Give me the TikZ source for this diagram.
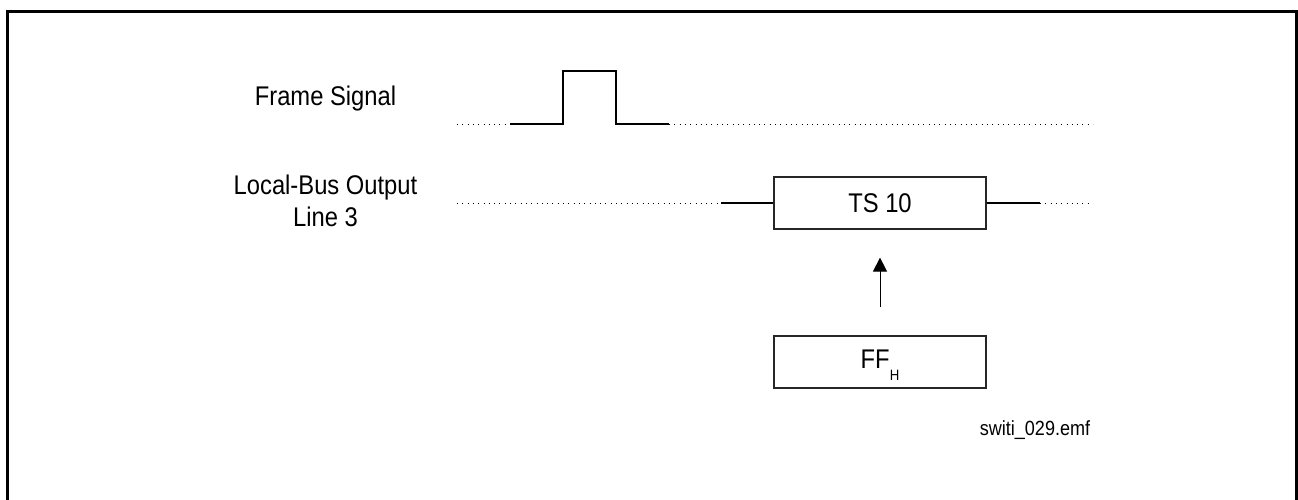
\documentclass[tikz,border=0pt]{standalone}
\usepackage{fontspec}
\setmainfont[FakeStretch=0.88]{Liberation Sans}
\usetikzlibrary{arrows.meta}
\tikzset{
  sig/.style={line width=1.2pt, black},
  dots/.style={line width=0.9pt, black, dash pattern=on 0.9pt off 4.4pt},
  slotbox/.style={draw=black!85, line width=1.2pt, minimum width=212pt, minimum height=52pt, inner sep=0pt, font=\fontsize{27}{30}\selectfont},
  lbl/.style={font=\fontsize{27}{31.5}\selectfont, inner sep=0pt},
  ptr/.style={line width=1pt, -{Triangle[width=14pt,length=14pt]}},
}
\begin{document}
\begin{tikzpicture}[x=1pt,y=-1pt]
\useasboundingbox (0,0) rectangle (1298,499);
\clip (0,0) rectangle (1298,499);
\draw[line width=3pt] (7.5,520) -- (7.5,11.5) -- (1296.5,11.5) -- (1296.5,520);
% labels
\node[lbl, anchor=base] (fs) at (325.5,105) {Frame Signal};
\node[lbl, anchor=base, align=center] (lb) at (325.5,226) {Local-Bus Output\\Line 3};
% frame signal waveform
\coordinate (f0) at (457,124);
\coordinate (f1) at (510,124);
\coordinate (f2) at (563,124);
\coordinate (f3) at (563,71);
\coordinate (f4) at (616,71);
\coordinate (f5) at (616,124);
\coordinate (f6) at (669,124);
\coordinate (f7) at (1093,124);
\draw[dots] (f0) -- (f1);
\draw[sig] (f1) -- (f2) -- (f3) -- (f4) -- (f5) -- (f6);
\draw[dots] (f6) -- (f7);
% local bus line
\node[slotbox] (ts) at (880,203) {TS 10};
\node[slotbox, text height=19.3pt, text depth=6.7pt] (ff) at (880,362) {FF{\fontsize{15}{15}\selectfont\raisebox{-11.7pt}{H}}};
\coordinate (l0) at (457,203);
\coordinate (l1) at (721,203);
\coordinate (r1) at (1040,203);
\coordinate (r0) at (1089,203);
\draw[dots] (l0) -- (l1);
\draw[sig] (l1) -- (ts.west);
\draw[sig] (ts.east) -- (r1);
\draw[dots] (r1) -- (r0);
\draw[ptr, shorten <=28pt, shorten >=28pt] (ff.north) -- (ts.south);
\node[anchor=base, inner sep=0pt, font=\fontsize{20.5}{22}\selectfont] (emf) at (1035,435) {switi\_029.emf};
\end{tikzpicture}
\end{document}
